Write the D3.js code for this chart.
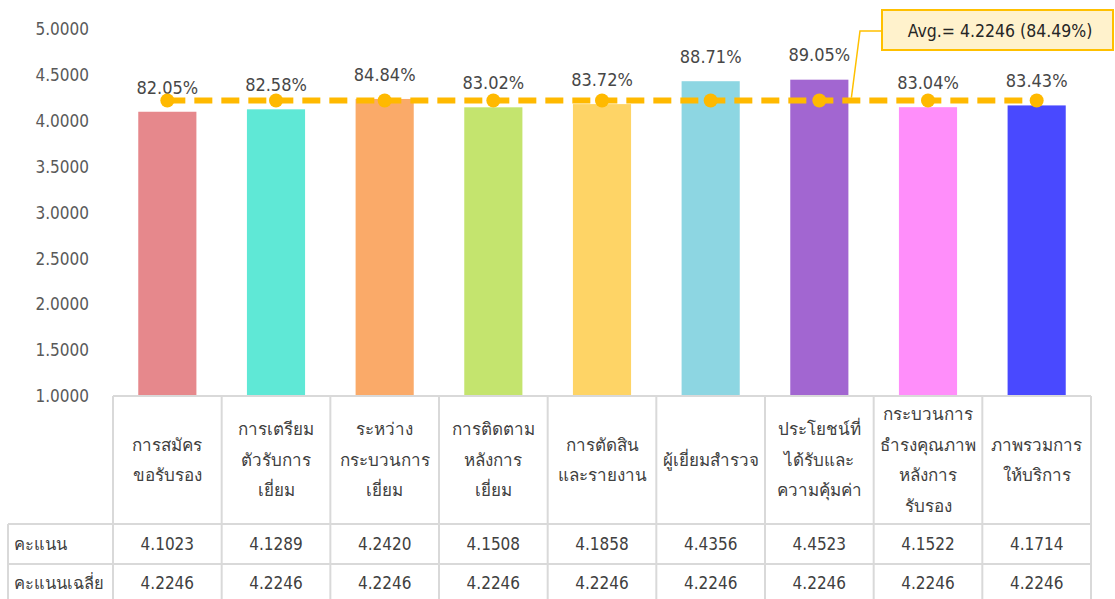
<!DOCTYPE html>
<html>
<head>
<meta charset="utf-8">
<script src="https://cdn.jsdelivr.net/npm/d3@7/dist/d3.min.js"></script>
<style>
  html, body { margin: 0; padding: 0; background: #ffffff; }
  svg { display: block; }
  text { font-family: Tahoma, "DejaVu Sans Condensed", "DejaVu Sans", sans-serif; }
</style>
</head>
<body>
<script>
// Assessment topics (multi-line labels for the table header)
const categories = [
  ["การสมัคร", "ขอรับรอง"],
  ["การเตรียม", "ตัวรับการ", "เยี่ยม"],
  ["ระหว่าง", "กระบวนการ", "เยี่ยม"],
  ["การติดตาม", "หลังการ", "เยี่ยม"],
  ["การตัดสิน", "และรายงาน"],
  ["ผู้เยี่ยมสำรวจ"],
  ["ประโยชน์ที่", "ได้รับและ", "ความคุ้มค่า"],
  ["กระบวนการ", "ธำรงคุณภาพ", "หลังการ", "รับรอง"],
  ["ภาพรวมการ", "ให้บริการ"]
];
// Scores per topic
const scores = [4.1023, 4.1289, 4.2420, 4.1508, 4.1858, 4.4356, 4.4523, 4.1522, 4.1714];
// Overall mean score, repeated for each topic
const averages = [4.2246, 4.2246, 4.2246, 4.2246, 4.2246, 4.2246, 4.2246, 4.2246, 4.2246];
const barColors = ["#E6888C", "#5FE8D6", "#FAAA69", "#C4E46E", "#FED466", "#8DD6E2", "#A266D1", "#FF8EFA", "#4949FF"];
const yTicks = [1.0, 1.5, 2.0, 2.5, 3.0, 3.5, 4.0, 4.5, 5.0];
const rowLabels = ["คะแนน", "คะแนนเฉลี่ย"];
const fullScore = 5;
const avgValue = 4.2246;

const W = 1115, H = 599;
const FONT = 'Tahoma, "DejaVu Sans Condensed", "DejaVu Sans", sans-serif';
const svg = d3.select("body").append("svg").attr("width", W).attr("height", H);

const keys = categories.map((c, i) => "c" + i);
const x = d3.scaleBand().domain(keys).range([113, 1091]).padding(0);
const barW = x.bandwidth() * 0.535;
const y = d3.scaleLinear().domain([1, 5]).range([396, 29.5]);

// Y axis labels (no line, no gridlines)
const yAxis = d3.axisLeft(y).tickValues(yTicks).tickFormat(d3.format(".4f")).tickSize(0).tickPadding(0);
const gy = svg.append("g").attr("transform", "translate(89,0)").call(yAxis);
gy.select(".domain").remove();
gy.selectAll("text").attr("fill", "#595959").attr("font-size", 17).style("font-family", FONT);

// Bars
svg.append("g").selectAll("rect").data(scores).join("rect")
  .attr("x", (d, i) => x(keys[i]) + (x.bandwidth() - barW) / 2)
  .attr("width", barW)
  .attr("y", d => y(d))
  .attr("height", d => y(1) - y(d))
  .attr("fill", (d, i) => barColors[i]);

// Percent labels above bars
const pct = d3.format(".2f");
svg.append("g").selectAll("text").data(scores).join("text")
  .attr("x", (d, i) => x(keys[i]) + x.bandwidth() / 2)
  .attr("y", d => y(d) - 24.5)
  .attr("dy", "0.35em")
  .attr("text-anchor", "middle")
  .attr("font-size", 18)
  .attr("fill", "#474747")
  .text(d => pct(d / fullScore * 100) + "%");

// Average dashed line with markers
const avgLine = d3.line()
  .x((d, i) => x(keys[i]) + x.bandwidth() / 2)
  .y(d => y(d));
svg.append("path").datum(averages)
  .attr("d", avgLine)
  .attr("fill", "none")
  .attr("stroke", "#FFB900")
  .attr("stroke-width", 6)
  .attr("stroke-dasharray", "18,9")
  .attr("stroke-linecap", "butt");
svg.append("g").selectAll("circle").data(averages).join("circle")
  .attr("cx", (d, i) => x(keys[i]) + x.bandwidth() / 2)
  .attr("cy", d => y(d))
  .attr("r", 7)
  .attr("fill", "#FFB900");

// Callout for the average
const calloutX = x(keys[6]) + x.bandwidth() / 2 + barW / 2 + 3;
const calloutY = y(avgValue) - 3;
svg.append("polyline")
  .attr("points", [[calloutX, calloutY], [860, 31], [882, 31]].map(p => p.join(",")).join(" "))
  .attr("fill", "none").attr("stroke", "#FFC000").attr("stroke-width", 1.5);
svg.append("rect")
  .attr("x", 882).attr("y", 10).attr("width", 231).attr("height", 40)
  .attr("fill", "#FFF2CC").attr("stroke", "#FFC000").attr("stroke-width", 2);
svg.append("text")
  .attr("x", 1000).attr("y", 31).attr("dy", "0.35em")
  .attr("text-anchor", "middle").attr("font-size", 17.5).attr("fill", "#262626")
  .text("Avg.= " + d3.format(".4f")(avgValue) + " (" + pct(avgValue / fullScore * 100) + "%)");

// Data table below the plot
const tableTop = y(1), headBottom = 524, row1Bottom = 564, tableBottom = 604;
const gridColor = "#D9D9D9";
const tg = svg.append("g");
const colEdges = keys.map(k => x(k)).concat([x.range()[1]]);
colEdges.forEach(cx => {
  tg.append("line").attr("x1", cx).attr("x2", cx).attr("y1", tableTop).attr("y2", tableBottom)
    .attr("stroke", gridColor).attr("stroke-width", 2);
});
tg.append("line").attr("x1", 113).attr("x2", 1091).attr("y1", tableTop).attr("y2", tableTop)
  .attr("stroke", gridColor).attr("stroke-width", 2);
[headBottom, row1Bottom, tableBottom].forEach(ry => {
  tg.append("line").attr("x1", 8).attr("x2", 1091).attr("y1", ry).attr("y2", ry)
    .attr("stroke", gridColor).attr("stroke-width", 2);
});
tg.append("line").attr("x1", 8).attr("x2", 8).attr("y1", headBottom).attr("y2", tableBottom)
  .attr("stroke", gridColor).attr("stroke-width", 2);

// Header labels
const lineH = 30.5;
categories.forEach((lines, i) => {
  const cx = x(keys[i]) + x.bandwidth() / 2;
  const cy = (tableTop + headBottom) / 2;
  const t = tg.append("text").attr("text-anchor", "middle").attr("font-size", 17).attr("fill", "#404040");
  lines.forEach((ln, j) => {
    t.append("tspan").attr("x", cx)
      .attr("y", cy + (j - (lines.length - 1) / 2) * lineH)
      .attr("dy", "0.35em").text(ln);
  });
});

// Row labels and values
const rows = [scores, averages];
const rowMid = [(headBottom + row1Bottom) / 2, (row1Bottom + tableBottom) / 2 - 1];
rows.forEach((vals, r) => {
  tg.append("text").attr("x", 14).attr("y", rowMid[r]).attr("dy", "0.35em")
    .attr("font-size", 16.5).attr("fill", "#404040").text(rowLabels[r]);
  vals.forEach((v, i) => {
    tg.append("text").attr("x", x(keys[i]) + x.bandwidth() / 2).attr("y", rowMid[r]).attr("dy", "0.35em")
      .attr("text-anchor", "middle").attr("font-size", 17).attr("fill", "#404040")
      .text(d3.format(".4f")(v));
  });
});
</script>
</body>
</html>
